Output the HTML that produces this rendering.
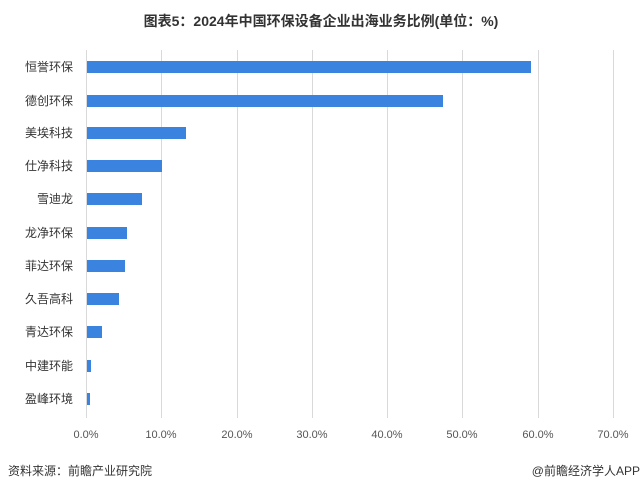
<!DOCTYPE html>
<html><head><meta charset="utf-8"><style>
body{margin:0;width:642px;height:494px;background:#fff;overflow:hidden;font-family:"Liberation Sans","Noto Sans CJK SC",sans-serif;}
</style></head><body>
<svg width="642" height="494" xmlns="http://www.w3.org/2000/svg" font-family="Liberation Sans, Noto Sans CJK SC, sans-serif">
<text x="321" y="26" text-anchor="middle" font-size="14" font-weight="bold" fill="#333">图表5：2024年中国环保设备企业出海业务比例(单位：%)</text>
<g stroke="#d9d9d9" stroke-width="1">
<line x1="86.5" y1="50" x2="86.5" y2="418"/><line x1="161.5" y1="50" x2="161.5" y2="418"/><line x1="237.5" y1="50" x2="237.5" y2="418"/><line x1="312.5" y1="50" x2="312.5" y2="418"/><line x1="387.5" y1="50" x2="387.5" y2="418"/><line x1="462.5" y1="50" x2="462.5" y2="418"/><line x1="538.5" y1="50" x2="538.5" y2="418"/><line x1="613.5" y1="50" x2="613.5" y2="418"/>
</g>
<g fill="#3a84e0">
<rect x="87" y="61" width="444" height="12"/>
<rect x="87" y="95" width="356" height="12"/>
<rect x="87" y="127" width="99" height="12"/>
<rect x="87" y="160" width="75" height="12"/>
<rect x="87" y="193" width="55" height="12"/>
<rect x="87" y="227" width="40" height="12"/>
<rect x="87" y="260" width="38" height="12"/>
<rect x="87" y="293" width="32" height="12"/>
<rect x="87" y="326" width="15" height="12"/>
<rect x="87" y="360" width="4" height="12"/>
<rect x="87" y="393" width="3" height="12"/>
</g>
<g font-size="12" fill="#333" text-anchor="end">
<text x="73" y="71">恒誉环保</text><text x="73" y="105">德创环保</text><text x="73" y="137">美埃科技</text><text x="73" y="170">仕净科技</text><text x="73" y="203">雪迪龙</text><text x="73" y="237">龙净环保</text><text x="73" y="270">菲达环保</text><text x="73" y="303">久吾高科</text><text x="73" y="336">青达环保</text><text x="73" y="370">中建环能</text><text x="73" y="403">盈峰环境</text>
</g>
<g font-size="11" fill="#555" text-anchor="middle">
<text x="86" y="438">0.0%</text><text x="161" y="438">10.0%</text><text x="237" y="438">20.0%</text><text x="312" y="438">30.0%</text><text x="387" y="438">40.0%</text><text x="462" y="438">50.0%</text><text x="538" y="438">60.0%</text><text x="613" y="438">70.0%</text>
</g>
<text x="8" y="475" font-size="12" fill="#333">资料来源：前瞻产业研究院</text>
<text x="640" y="475" font-size="12" fill="#333" text-anchor="end">@前瞻经济学人APP</text>
</svg>
</body></html>
